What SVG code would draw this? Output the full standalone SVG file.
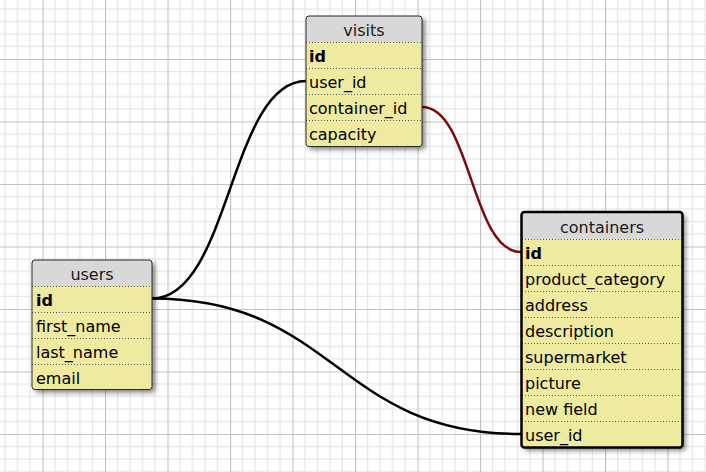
<svg xmlns="http://www.w3.org/2000/svg" width="706" height="472" viewBox="0 0 706 472">
<defs>
<pattern id="g" width="62.5" height="62.5" patternUnits="userSpaceOnUse" x="42.5" y="59">
<rect width="62.5" height="62.5" fill="#fff"/>
<path d="M12.5 0V62.5M25 0V62.5M37.5 0V62.5M50 0V62.5M0 12.5H62.5M0 25H62.5M0 37.5H62.5M0 50H62.5" stroke="#e6e6e6" stroke-width="1.2"/>
<path d="M0.5 0V62.5M0 0.5H62.5" stroke="#c2c2c2" stroke-width="1.2"/>
</pattern>
<filter id="sh" x="-20%" y="-20%" width="140%" height="140%">
<feDropShadow dx="3" dy="3" stdDeviation="2.5" flood-color="#000" flood-opacity="0.5"/>
</filter>
</defs>
<style>
.t{font-family:"DejaVu Sans",Verdana,sans-serif;font-size:16px;fill:#000}
.h{text-anchor:middle;fill:#1a1a1a}
.b{font-weight:bold}
.row{fill:#eeeaa0}
.hd{fill:#d8d8d8}
.sep{stroke:#5a5a78;stroke-width:1;stroke-dasharray:1 2}
.bd{fill:none;stroke:#2a2a2a;stroke-width:1}
.sel{fill:none;stroke:#000;stroke-width:2.5}
.c{fill:none;stroke:#000;stroke-width:2.5}
.cr{fill:none;stroke:#7d0a0a;stroke-width:2.5}
</style>
<rect width="706" height="472" fill="url(#g)"/>
<g id="connectors">
<path class="c" d="M152 298.5C230 298.5 230 81 306 81"/>
<path class="c" d="M152 298.5C336 298.5 336 434 521 434"/>
<path class="cr" d="M422 107C471 107 471 252 521 252"/>
</g>
<g id="visits">
<rect x="306" y="16" width="116" height="130.5" rx="3" class="row" filter="url(#sh)"/>
<path class="hd" d="M306 42V19a3 3 0 0 1 3-3h110a3 3 0 0 1 3 3V42z"/>
<path class="sep" d="M306 42.5H422M306 68.5H422M306 94.5H422M306 120.5H422"/>
<rect x="306" y="16" width="116" height="130.5" rx="3" class="bd"/>
<text class="t h" x="364" y="36">visits</text>
<text class="t b" x="309" y="61.5">id</text>
<text class="t" x="309" y="87.5">user_id</text>
<text class="t" x="309" y="113.5">container_id</text>
<text class="t" x="309" y="139.5">capacity</text>
</g>
<g id="users">
<rect x="32" y="260" width="120" height="129.5" rx="3" class="row" filter="url(#sh)"/>
<path class="hd" d="M32 286V263a3 3 0 0 1 3-3h114a3 3 0 0 1 3 3V286z"/>
<path class="sep" d="M32 286.5H152M32 312.5H152M32 338.5H152M32 364.5H152"/>
<rect x="32" y="260" width="120" height="129.5" rx="3" class="bd"/>
<text class="t h" x="92" y="280">users</text>
<text class="t b" x="36" y="305.5">id</text>
<text class="t" x="36" y="331.5">first_name</text>
<text class="t" x="36" y="357.5">last_name</text>
<text class="t" x="36" y="383.5">email</text>
</g>
<g id="containers">
<rect x="521.5" y="212" width="161" height="235.5" rx="3" class="row" filter="url(#sh)"/>
<path class="hd" d="M521.5 239V215a3 3 0 0 1 3-3h155a3 3 0 0 1 3 3V239z"/>
<path class="sep" d="M522 239.5H682M522 265.5H682M522 291.5H682M522 317.5H682M522 343.5H682M522 369.5H682M522 395.5H682M522 421.5H682"/>
<rect x="521.5" y="212" width="161" height="235.5" rx="3" class="sel"/>
<text class="t h" x="602" y="233">containers</text>
<text class="t b" x="525" y="258.5">id</text>
<text class="t" x="525" y="284.5">product_category</text>
<text class="t" x="525" y="310.5">address</text>
<text class="t" x="525" y="336.5">description</text>
<text class="t" x="525" y="362.5">supermarket</text>
<text class="t" x="525" y="388.5">picture</text>
<text class="t" x="525" y="414.5">new field</text>
<text class="t" x="525" y="440.5">user_id</text>
</g>
</svg>
